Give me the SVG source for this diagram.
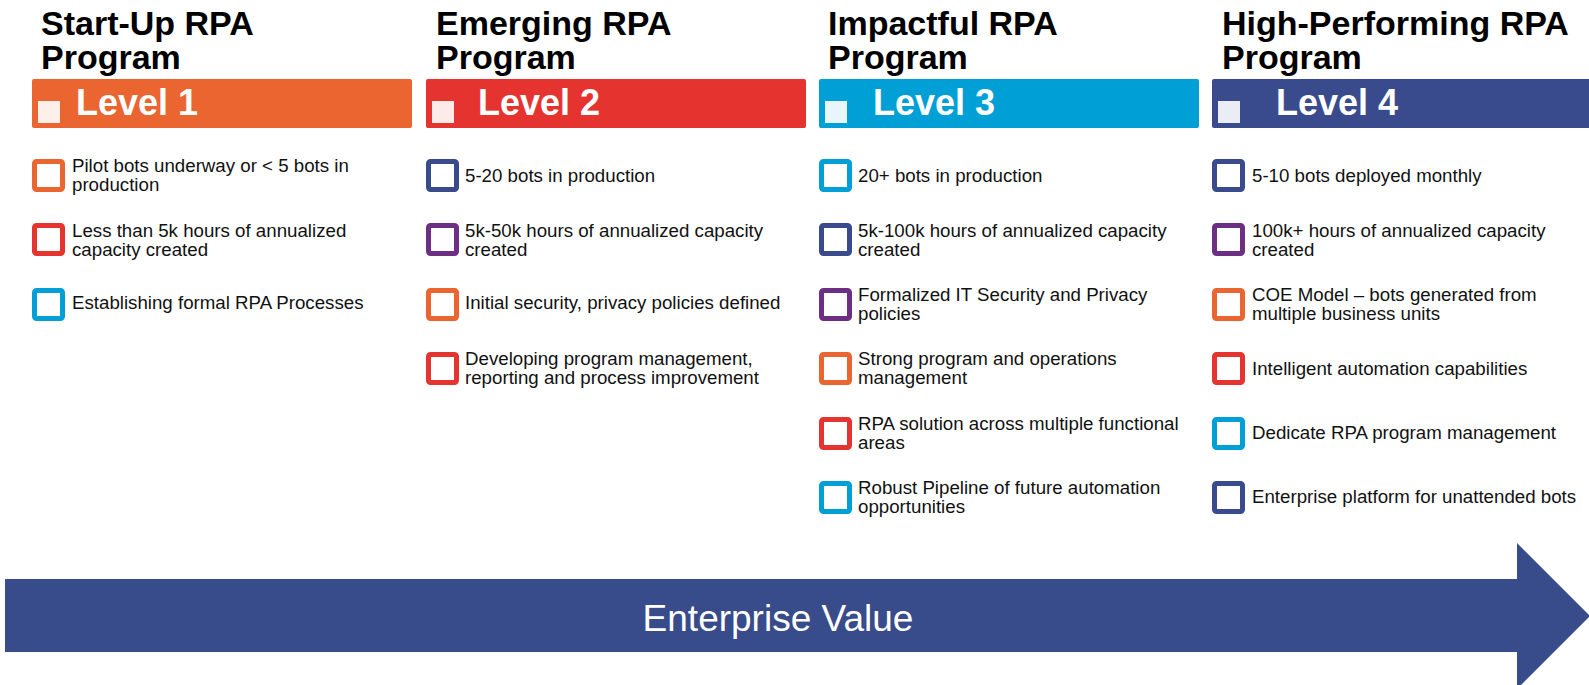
<svg xmlns="http://www.w3.org/2000/svg" width="1589" height="685" viewBox="0 0 1589 685">
<style>
.title{font-family:"Liberation Sans",Arial,sans-serif;font-weight:bold;font-size:34px;fill:#000}
.lvl{font-family:"Liberation Sans",Arial,sans-serif;font-weight:bold;font-size:36px;fill:#fff}
.item{font-family:"Liberation Sans",Arial,sans-serif;font-size:18.7px;fill:#111}
.ev{font-family:"Liberation Sans",Arial,sans-serif;font-size:37px;fill:#fff}
.sq{fill:#fff;fill-opacity:0.9}
.box{fill:#fff;stroke-width:5}
.o{stroke:#EB6530}.r{stroke:#E53330}.c{stroke:#00A0D6}.n{stroke:#394B8C}.p{stroke:#6C2F83}
</style>
<g id="connectors">
<polygon points="5,579 1517,579 1517,543 1590,616 1517,689 1517,652 5,652" fill="#384B8B"/>
<text class="ev" x="778" y="631" text-anchor="middle">Enterprise Value</text>
</g>
<g id="level1">
<text class="title" x="41" y="35">Start-Up RPA</text>
<text class="title" x="41" y="69">Program</text>
<rect x="32" y="79" width="380" height="49" rx="2" fill="#EB6530"/>
<rect class="sq" x="38" y="101" width="22" height="22"/>
<text class="lvl" x="76" y="115">Level 1</text>
<rect class="box o" x="34.5" y="161.5" width="28" height="28" rx="2"/>
<text class="item" x="72" y="172">Pilot bots underway or &lt; 5 bots in</text>
<text class="item" x="72" y="191">production</text>
<rect class="box r" x="34.5" y="225.5" width="28" height="28" rx="2"/>
<text class="item" x="72" y="237">Less than 5k hours of annualized</text>
<text class="item" x="72" y="256">capacity created</text>
<rect class="box c" x="34.5" y="290.5" width="28" height="28" rx="2"/>
<text class="item" x="72" y="309">Establishing formal RPA Processes</text>
</g>
<g id="level2">
<text class="title" x="436" y="35">Emerging RPA</text>
<text class="title" x="436" y="69">Program</text>
<rect x="426" y="79" width="380" height="49" rx="2" fill="#E53330"/>
<rect class="sq" x="432" y="101" width="22" height="22"/>
<text class="lvl" x="478" y="115">Level 2</text>
<rect class="box n" x="428.5" y="161.5" width="28" height="28" rx="2"/>
<text class="item" x="465" y="182">5-20 bots in production</text>
<rect class="box p" x="428.5" y="225.5" width="28" height="28" rx="2"/>
<text class="item" x="465" y="237">5k-50k hours of annualized capacity</text>
<text class="item" x="465" y="256">created</text>
<rect class="box o" x="428.5" y="290.5" width="28" height="28" rx="2"/>
<text class="item" x="465" y="309">Initial security, privacy policies defined</text>
<rect class="box r" x="428.5" y="354.5" width="28" height="28" rx="2"/>
<text class="item" x="465" y="365">Developing program management,</text>
<text class="item" x="465" y="384">reporting and process improvement</text>
</g>
<g id="level3">
<text class="title" x="828" y="35">Impactful RPA</text>
<text class="title" x="828" y="69">Program</text>
<rect x="819" y="79" width="380" height="49" rx="2" fill="#00A0D6"/>
<rect class="sq" x="825" y="101" width="22" height="22"/>
<text class="lvl" x="873" y="115">Level 3</text>
<rect class="box c" x="821.5" y="161.5" width="28" height="28" rx="2"/>
<text class="item" x="858" y="182">20+ bots in production</text>
<rect class="box n" x="821.5" y="225.5" width="28" height="28" rx="2"/>
<text class="item" x="858" y="237">5k-100k hours of annualized capacity</text>
<text class="item" x="858" y="256">created</text>
<rect class="box p" x="821.5" y="290.5" width="28" height="28" rx="2"/>
<text class="item" x="858" y="301">Formalized IT Security and Privacy</text>
<text class="item" x="858" y="320">policies</text>
<rect class="box o" x="821.5" y="354.5" width="28" height="28" rx="2"/>
<text class="item" x="858" y="365">Strong program and operations</text>
<text class="item" x="858" y="384">management</text>
<rect class="box r" x="821.5" y="419.5" width="28" height="28" rx="2"/>
<text class="item" x="858" y="430">RPA solution across multiple functional</text>
<text class="item" x="858" y="449">areas</text>
<rect class="box c" x="821.5" y="483.5" width="28" height="28" rx="2"/>
<text class="item" x="858" y="494">Robust Pipeline of future automation</text>
<text class="item" x="858" y="513">opportunities</text>
</g>
<g id="level4">
<text class="title" x="1222" y="35">High-Performing RPA</text>
<text class="title" x="1222" y="69">Program</text>
<rect x="1212" y="79" width="390" height="49" rx="2" fill="#394B8C"/>
<rect class="sq" x="1218" y="101" width="22" height="22"/>
<text class="lvl" x="1276" y="115">Level 4</text>
<rect class="box n" x="1214.5" y="161.5" width="28" height="28" rx="2"/>
<text class="item" x="1252" y="182">5-10 bots deployed monthly</text>
<rect class="box p" x="1214.5" y="225.5" width="28" height="28" rx="2"/>
<text class="item" x="1252" y="237">100k+ hours of annualized capacity</text>
<text class="item" x="1252" y="256">created</text>
<rect class="box o" x="1214.5" y="290.5" width="28" height="28" rx="2"/>
<text class="item" x="1252" y="301">COE Model – bots generated from</text>
<text class="item" x="1252" y="320">multiple business units</text>
<rect class="box r" x="1214.5" y="354.5" width="28" height="28" rx="2"/>
<text class="item" x="1252" y="375">Intelligent automation capabilities</text>
<rect class="box c" x="1214.5" y="419.5" width="28" height="28" rx="2"/>
<text class="item" x="1252" y="439">Dedicate RPA program management</text>
<rect class="box n" x="1214.5" y="483.5" width="28" height="28" rx="2"/>
<text class="item" x="1252" y="503">Enterprise platform for unattended bots</text>
</g>
</svg>
